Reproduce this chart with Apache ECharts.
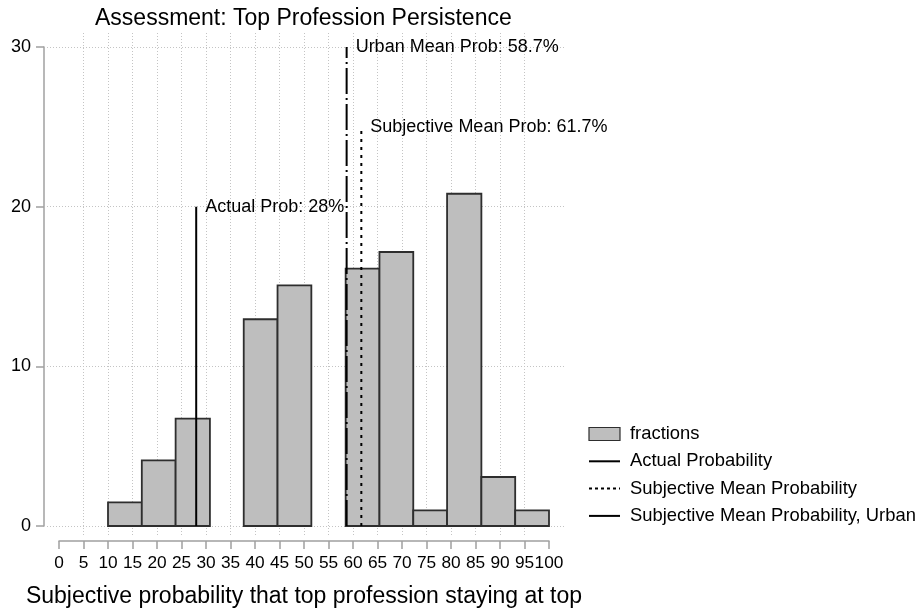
<!DOCTYPE html>
<html>
<head>
<meta charset="utf-8">
<script src="https://cdn.jsdelivr.net/npm/echarts@6/dist/echarts.min.js"></script>
<style>
html,body{margin:0;padding:0;background:#fff;}
#chart{width:919px;height:610px;}
</style>
</head>
<body>
<div id="chart"></div>
<script>
// histogram bins (width ~6.92 starting at 10), empty bins left out
var binStart = [10, 16.9, 23.8, 37.7, 44.6, 58.5, 65.4, 72.3, 79.2, 86.2, 93.1];
var binEnd = [16.9, 23.8, 30.8, 44.6, 51.5, 65.4, 72.3, 79.2, 86.2, 93.1, 100];
var fractions = [1.48, 4.11, 6.72, 12.95, 15.07, 16.12, 17.16, 0.98, 20.81, 3.07, 0.98];

// reference lines
var refNames = ['Actual Probability', 'Subjective Mean Probability', 'Subjective Mean Probability, Urban'];
var refX = [28, 61.7, 58.7];
var refTop = [20, 25, 30];
var refLabels = ['Actual Prob: 28%', 'Subjective Mean Prob: 61.7%', 'Urban Mean Prob: 58.7%'];
var refDash = ['solid', [3, 5], [26, 4, 2, 4]];
var legendDash = ['solid', [3, 3], 'solid'];

// axis ticks
var xTickMin = 0, xTickMax = 100, xTickStep = 5;
var yTickMin = 0, yTickMax = 30, yTickStep = 10;

var FONT = 'Liberation Sans';
var chart = echarts.init(document.getElementById('chart'));

var barData = binStart.map(function (s, i) {
	return [s, binEnd[i], fractions[i]];
});

function renderBar(params, api) {
	var p0 = api.coord([api.value(0), api.value(2)]);
	var p1 = api.coord([api.value(1), 0]);
	return {
		type: 'rect',
		shape: { x: p0[0], y: p0[1], width: p1[0] - p0[0], height: p1[1] - p0[1] },
		style: { fill: '#bebebe', stroke: '#2e2e2e', lineWidth: 1.8 }
	};
}

var gridDot = { color: '#c4c4c4', width: 1, type: [1, 2] };
var noAxis = { show: false };

var series = [{
	name: 'fractions',
	type: 'custom',
	xAxisIndex: 0,
	yAxisIndex: 0,
	renderItem: renderBar,
	encode: { x: [0, 1], y: 2 },
	data: barData,
	z: 3
}];

refX.forEach(function (x, i) {
	series.push({
		name: refNames[i],
		type: 'line',
		xAxisIndex: 0,
		yAxisIndex: 0,
		symbol: 'none',
		itemStyle: { color: '#000' },
		lineStyle: { color: '#000', width: 2, type: refDash[i] },
		data: [[x, 0], [x, refTop[i]]],
		z: 4
	});
	// text next to the top of each reference line
	series.push({
		type: 'scatter',
		xAxisIndex: 0,
		yAxisIndex: 0,
		symbolSize: 0,
		silent: true,
		itemStyle: { opacity: 1 },
		label: {
			show: true, position: 'right', distance: 9,
			formatter: refLabels[i],
			color: '#000', opacity: 1, fontSize: 18, fontFamily: FONT
		},
		data: [[x, refTop[i]]],
		z: 5
	});
});

var lineLegend = function (i) {
	return { name: refNames[i], itemStyle: { opacity: 0 }, lineStyle: { type: legendDash[i] } };
};

chart.setOption({
	animation: false,
	backgroundColor: '#fff',
	title: {
		text: 'Assessment: Top Profession Persistence',
		left: 90,
		top: 2,
		textStyle: { fontSize: 23, fontWeight: 'normal', color: '#000', fontFamily: FONT }
	},
	legend: {
		orient: 'vertical',
		left: 583,
		top: 420,
		itemWidth: 31,
		itemHeight: 13,
		itemGap: 9.3,
		textStyle: { fontSize: 18.4, color: '#000', fontFamily: FONT, padding: [0, 0, 0, 5] },
		data: [
			{ name: 'fractions', icon: 'rect', itemStyle: { color: '#bebebe', borderColor: '#2e2e2e', borderWidth: 1.2 } },
			lineLegend(0), lineLegend(1), lineLegend(2)
		]
	},
	grid: [
		{ left: 59, top: 47, width: 490, height: 479, outerBoundsMode: 'none' },
		{ left: 83.5, top: 33, width: 441, height: 502, outerBoundsMode: 'none' },
		{ left: 47, top: 47, width: 518, height: 479, outerBoundsMode: 'none' }
	],
	xAxis: [{
		gridIndex: 0,
		type: 'value',
		min: xTickMin, max: xTickMax, interval: xTickStep,
		offset: 15,
		axisLine: { onZero: false, lineStyle: { color: '#a0a0a0', width: 1.5 } },
		axisTick: { length: 8, lineStyle: { color: '#a0a0a0', width: 1.5 } },
		axisLabel: {
			interval: 0, margin: 14, showMinLabel: true, showMaxLabel: true, hideOverlap: false,
			color: '#000', fontSize: 17.3, fontFamily: FONT
		},
		splitLine: { show: false },
		name: 'Subjective probability that top profession staying at top',
		nameLocation: 'middle',
		nameGap: 44,
		nameTextStyle: { fontSize: 23, color: '#000', fontFamily: FONT }
	}, {
		gridIndex: 1,
		type: 'value',
		min: xTickMin + xTickStep, max: xTickMax - xTickStep, interval: xTickStep,
		axisLine: noAxis, axisTick: noAxis, axisLabel: noAxis,
		splitLine: { show: true, lineStyle: gridDot }
	}, {
		gridIndex: 2,
		type: 'value',
		min: 0, max: 1,
		axisLine: noAxis, axisTick: noAxis, axisLabel: noAxis, splitLine: noAxis
	}],
	yAxis: [{
		gridIndex: 0,
		type: 'value',
		min: yTickMin, max: yTickMax, interval: yTickStep,
		offset: 15,
		axisLine: { show: true, onZero: false, lineStyle: { color: '#a0a0a0', width: 1.5 } },
		axisTick: { show: true, length: 8, lineStyle: { color: '#a0a0a0', width: 1.5 } },
		axisLabel: { margin: 13, color: '#000', fontSize: 18, fontFamily: FONT },
		splitLine: { show: false }
	}, {
		gridIndex: 1,
		type: 'value',
		min: 0, max: 1,
		axisLine: noAxis, axisTick: noAxis, axisLabel: noAxis, splitLine: noAxis
	}, {
		gridIndex: 2,
		type: 'value',
		min: yTickMin, max: yTickMax, interval: yTickStep,
		axisLine: noAxis, axisTick: noAxis, axisLabel: noAxis,
		splitLine: { show: true, lineStyle: gridDot }
	}],
	series: series
});
</script>
</body>
</html>
